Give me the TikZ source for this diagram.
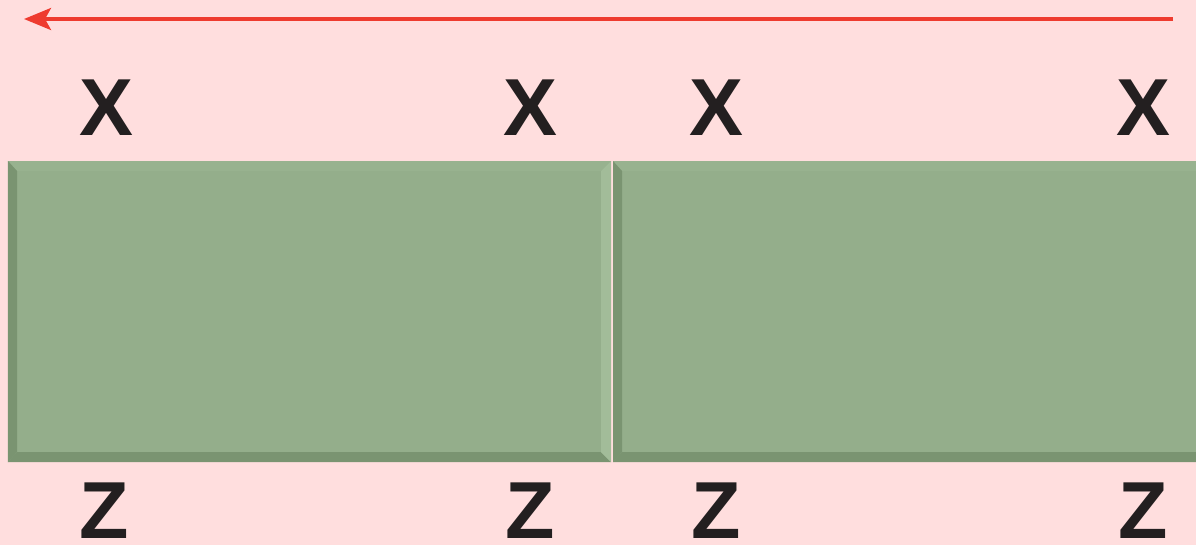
\documentclass[tikz,border=0pt]{standalone}
\usepackage{fontspec}
\setsansfont{Liberation Sans}
\usetikzlibrary{arrows.meta}
\definecolor{bgcolor}{RGB}{255,222,222}
\definecolor{facecolor}{RGB}{148,174,139}
\definecolor{topcolor}{RGB}{152,178,143}
\definecolor{darkcolor}{RGB}{122,148,113}
\definecolor{lightcolor}{RGB}{162,188,153}
\definecolor{lettercolor}{RGB}{35,31,32}
\definecolor{arrowcolor}{RGB}{238,59,47}

\begin{document}
\begin{tikzpicture}[
    x=0.01cm, y=-0.01cm,
    letter/.style={font=\sffamily\bfseries\fontsize{23}{23}\selectfont, text=lettercolor, inner sep=0pt},
    face/.style={fill=facecolor},
    topband/.style={fill=topcolor},
    darkband/.style={fill=darkcolor},
    lightband/.style={fill=lightcolor},
    flow/.style={-{Stealth[length=0.27cm, width=0.22cm, inset=0.06cm]}, draw=arrowcolor, line width=1pt}
]

    % background and page size
    \fill[bgcolor] (0,0) rectangle (1196,545);
    \useasboundingbox (0,0) rectangle (1196,545);
    \clip (0,0) rectangle (1196,545);

    % bevelled blocks
    \foreach \l/\r in {8/611, 613/1216} {
        \fill[face] (\l,161) rectangle (\r,462);
        \fill[topband] (\l,161) -- (\r,161) -- (\r-10,171) -- (\l+9,171) -- cycle;
        \fill[darkband] (\l,161) -- (\l+9,171) -- (\l+9,452) -- (\l,462) -- cycle;
        \fill[darkband] (\l,462) -- (\l+9,452) -- (\r-10,452) -- (\r,462) -- cycle;
        \fill[lightband] (\r,161) -- (\r-10,171) -- (\r-10,452) -- (\r,462) -- cycle;
    }

    % labels above
    \node[letter] (x1) at (106,108) {X};
    \node[letter] (x2) at (530,108) {X};
    \node[letter] (x3) at (716,108) {X};
    \node[letter] (x4) at (1143,108) {X};

    % labels below
    \node[letter] (z1) at (104,511) {Z};
    \node[letter] (z2) at (530,511) {Z};
    \node[letter] (z3) at (716,511) {Z};
    \node[letter] (z4) at (1143,511) {Z};

    % direction arrow
    \coordinate (start) at (1173,19);
    \coordinate (stop) at (24,19);
    \draw[flow] (start) -- (stop);

\end{tikzpicture}
\end{document}
